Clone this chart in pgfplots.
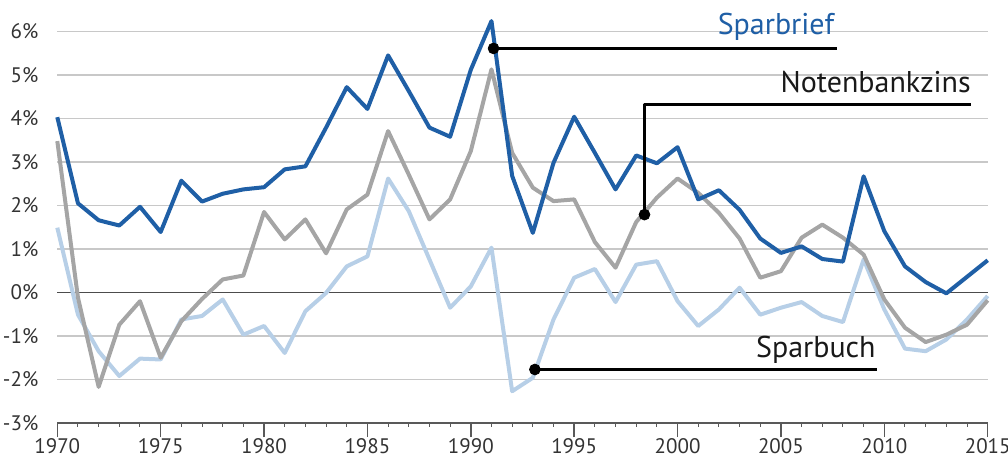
\documentclass[border=0pt]{standalone}
\usepackage{fontspec}
\setmainfont{PT Sans}
\usepackage{pgfplots}
\usepackage{pgfplotstable}
\pgfplotsset{compat=1.18}
\usetikzlibrary{calc}
\definecolor{sbrief}{HTML}{1F5FA6}
\definecolor{nbz}{HTML}{A5A5A5}
\definecolor{sbuch}{HTML}{B7CFE7}
\definecolor{gridc}{HTML}{C8C8C8}
\definecolor{txt}{HTML}{333333}

\pgfplotstableread{
year brief nbz buch
1970 4.03 3.48 1.49
1971 2.05 -0.12 -0.51
1972 1.66 -2.17 -1.35
1973 1.54 -0.74 -1.92
1974 1.97 -0.20 -1.52
1975 1.39 -1.50 -1.54
1976 2.57 -0.66 -0.62
1977 2.09 -0.15 -0.54
1978 2.27 0.30 -0.16
1979 2.37 0.39 -0.97
1980 2.42 1.85 -0.77
1981 2.83 1.22 -1.39
1982 2.90 1.68 -0.43
1983 3.79 0.90 -0.01
1984 4.72 1.91 0.60
1985 4.22 2.25 0.83
1986 5.45 3.71 2.62
1987 4.63 2.71 1.87
1988 3.79 1.68 0.76
1989 3.58 2.14 -0.35
1990 5.12 3.25 0.14
1991 6.24 5.13 1.03
1992 2.68 3.21 -2.27
1993 1.37 2.41 -1.96
1994 2.98 2.10 -0.62
1995 4.04 2.14 0.34
1996 3.21 1.16 0.54
1997 2.37 0.57 -0.22
1998 3.15 1.62 0.64
1999 2.97 2.18 0.72
2000 3.34 2.62 -0.20
2001 2.14 2.29 -0.77
2002 2.35 1.83 -0.39
2003 1.90 1.24 0.11
2004 1.24 0.34 -0.51
2005 0.91 0.49 -0.35
2006 1.06 1.26 -0.22
2007 0.77 1.56 -0.54
2008 0.71 1.26 -0.68
2009 2.67 0.87 0.76
2010 1.41 -0.16 -0.39
2011 0.60 -0.81 -1.29
2012 0.24 -1.14 -1.35
2013 -0.02 -0.97 -1.08
2014 0.36 -0.74 -0.62
2015 0.74 -0.18 -0.08
}\datatable

\begin{document}
\begin{tikzpicture}
\begin{axis}[
  scale only axis,
  width=465.2pt, height=202.3pt,
  xmin=1970, xmax=2015, ymin=-3, ymax=6.3,
  axis x line*=bottom, axis y line*=left,
  y axis line style={draw=none},
  x axis line style={draw=black!65, line width=0.8pt},
  xtick={1970,1975,...,2015},
  xticklabels={1970,1975,1980,1985,1990,1995,2000,2005,2010,2015},
  minor x tick num=4,
  tick align=outside,
  major tick length=7pt, minor tick length=2pt,
  xtick style={draw=black!65, line width=0.7pt},
  minor x tick style={draw=black!65, line width=0.5pt},
  ytick={-3,-2,...,6},
  yticklabels={-3\%,-2\%,-1\%,0\%,1\%,2\%,3\%,4\%,5\%,6\%},
  ytick style={draw=none},
  ymajorgrids, grid style={gridc, line width=0.6pt},
  tick label style={font=\fontsize{10.5}{12}\selectfont, text=txt},
  yticklabel style={xshift=1pt},
  xticklabel style={yshift=3pt},
  clip=false,
  line join=round,
]
\coordinate (LL) at (rel axis cs:0,0);
\draw[black!70, line width=0.6pt] (axis cs:1970,0) -- (axis cs:2015,0);
\addplot[sbuch, line width=2pt, no marks] table[x=year,y=buch] {\datatable};
\addplot[nbz, line width=2pt, no marks] table[x=year,y=nbz] {\datatable};
\addplot[sbrief, line width=2pt, no marks] table[x=year,y=brief] {\datatable};
% annotations
\draw[black, line width=1.2pt] (axis cs:1991.1,5.61) -- (axis cs:2007.7,5.61);
\draw[black, line width=1.2pt] (axis cs:1998.4,1.79) |- (axis cs:2014.2,4.32);
\draw[black, line width=1.2pt] (axis cs:1993.1,-1.77) -- (axis cs:2009.65,-1.77);
\addplot[only marks, mark=*, mark size=2.7pt, black] coordinates {(1991.1,5.61) (1998.4,1.79) (1993.1,-1.77)};
\node[anchor=base east, text=sbrief, font=\fontsize{15}{18}\selectfont, inner sep=0pt] at (axis cs:2007.6,5.92) {Sparbrief};
\node[anchor=base east, text=black!90, font=\fontsize{15}{18}\selectfont, inner sep=0pt] at (axis cs:2014.2,4.6) {Notenbankzins};
\node[anchor=base east, text=black!90, font=\fontsize{15}{18}\selectfont, inner sep=0pt] at (axis cs:2009.6,-1.5) {Sparbuch};
\end{axis}
\pgfresetboundingbox
\path ($(LL)+(-28.65pt,-19pt)$) rectangle ++(504pt,230.5pt);
\end{tikzpicture}
\end{document}
